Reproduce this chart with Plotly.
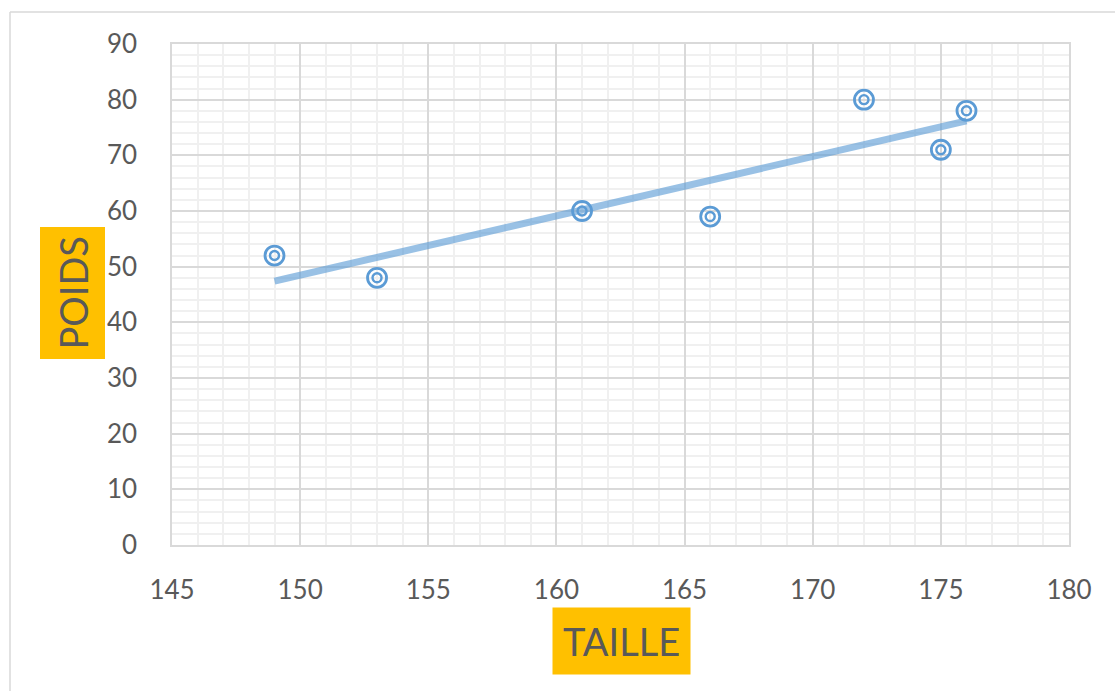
import numpy as np
import plotly.graph_objects as go

taille = [149, 153, 161, 166, 172, 175, 176]
poids = [52, 48, 60, 59, 80, 71, 78]
x_ticks = [145, 150, 155, 160, 165, 170, 175, 180]
y_ticks = [0, 10, 20, 30, 40, 50, 60, 70, 80, 90]

W, H = 1115, 691
L, R, T, B = 172, 1069, 44, 545
pw, ph = R - L, B - T

slope, intercept = np.polyfit(taille, poids, 1)
tx = [min(taille), max(taille)]
ty = [slope * v + intercept for v in tx]

font = "Lato, 'Open Sans', sans-serif"
grey = "#595959"
blue = "#5B9BD5"

fig = go.Figure()
fig.add_trace(go.Scatter(x=tx, y=ty, mode="lines",
                         line=dict(color="rgba(91,155,213,0.62)", width=7),
                         hoverinfo="skip", showlegend=False))
fig.add_trace(go.Scatter(x=taille, y=poids, mode="markers",
                         marker=dict(symbol="circle-open", size=19, color=blue,
                                     line=dict(width=2.8, color=blue)),
                         showlegend=False))
fig.add_trace(go.Scatter(x=taille, y=poids, mode="markers",
                         marker=dict(symbol="circle-open", size=9, color=blue,
                                     line=dict(width=2.4, color=blue)),
                         showlegend=False))

axis_common = dict(showline=True, linecolor="#d9d9d9", linewidth=1.5, mirror=True,
                   gridcolor="#d9d9d9", gridwidth=1.5, zeroline=False,
                   ticks="", tickfont=dict(family=font, size=26, color=grey))

fig.update_layout(
    width=W, height=H,
    margin=dict(l=L, r=W - R, t=T, b=H - B),
    paper_bgcolor="white", plot_bgcolor="white",
    font=dict(family=font, color=grey),
    xaxis=dict(range=[145, 180], tickvals=x_ticks, ticktext=[str(v) for v in x_ticks],
               ticklabelstandoff=21,
               minor=dict(dtick=1, gridcolor="#f0f0f0", gridwidth=1.5, showgrid=True),
               **axis_common),
    yaxis=dict(range=[0, 90], tickvals=y_ticks, ticktext=[str(v) for v in y_ticks],
               ticklabelstandoff=28,
               minor=dict(dtick=2, gridcolor="#f0f0f0", gridwidth=1.5, showgrid=True),
               **axis_common),
    annotations=[
        dict(text="TAILLE", xref="paper", yref="paper",
             x=(621 - L) / pw, y=(B - 641) / ph, xanchor="center", yanchor="middle",
             showarrow=False, bgcolor="#FFC000", borderpad=10,
             font=dict(family=font, size=38, color=grey)),
        dict(text="POIDS", xref="paper", yref="paper", textangle=-90,
             x=(72.5 - L) / pw, y=(B - 293) / ph, xanchor="center", yanchor="middle",
             showarrow=False, bgcolor="#FFC000", borderpad=9,
             font=dict(family=font, size=38, color=grey)),
    ],
    shapes=[
        dict(type="line", xref="paper", yref="paper",
             x0=(10 - L) / pw, x1=(W + 20 - L) / pw, y0=(B - 12) / ph, y1=(B - 12) / ph,
             line=dict(color="#d9d9d9", width=1.5)),
        dict(type="line", xref="paper", yref="paper",
             x0=(10 - L) / pw, x1=(10 - L) / pw, y0=(B - 12) / ph, y1=(B - H - 20) / ph,
             line=dict(color="#d9d9d9", width=1.5)),
    ],
)

fig.write_html("out.html")
